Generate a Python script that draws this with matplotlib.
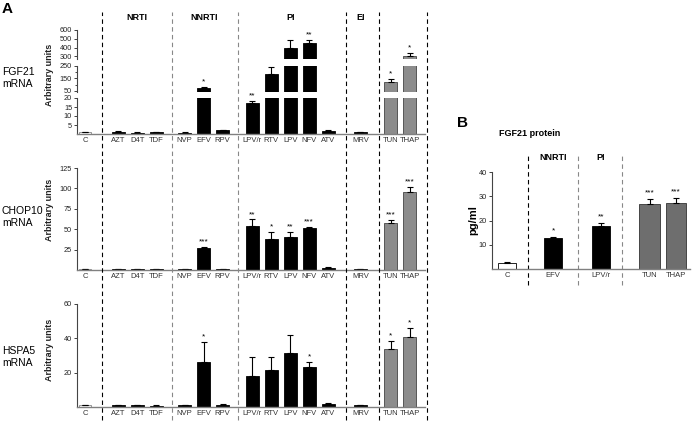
import numpy as np
import matplotlib.pyplot as plt
import matplotlib.transforms as mtransforms

plt.rcParams['font.family'] = ['Liberation Sans', 'DejaVu Sans']

# panel A data
drugs = ['C', 'AZT', 'D4T', 'TDF', 'NVP', 'EFV', 'RPV', 'LPV/r', 'RTV', 'LPV', 'NFV', 'ATV', 'MRV', 'TUN', 'THAP']
groups = ['NRTI', 'NNRTI', 'PI', 'EI']

fgf21 = [1.0, 1.2, 0.8, 1.0, 0.8, 75, 2.0, 17.2, 185, 390, 455, 1.8, 1.0, 122, 305]
fgf21_err = [0.1, 0.2, 0.1, 0.1, 0.1, 7, 0.2, 1.3, 57, 100, 35, 0.2, 0.1, 22, 35]
fgf21_sig = ['', '', '', '', '', '*', '', '**', '', '', '**', '', '', '*', '*']

chop10 = [1, 1, 1, 1, 1, 27, 1.5, 54, 38, 40, 52, 3, 1, 57, 95]
chop10_err = [0.2, 0.2, 0.2, 0.2, 0.2, 1.5, 0.3, 8, 9, 7, 1, 0.5, 0.2, 4, 7]
chop10_sig = ['', '', '', '', '', '***', '', '**', '*', '**', '***', '', '', '***', '***']

hspa5 = [1, 1, 1, 0.8, 1, 26.5, 1, 18, 21.5, 31.5, 23.5, 2, 1, 33.7, 40.7]
hspa5_err = [0.1, 0.1, 0.1, 0.1, 0.1, 11.5, 0.5, 11, 7.5, 10.5, 3, 0.3, 0.1, 4.7, 5.3]
hspa5_sig = ['', '', '', '', '', '*', '', '', '', '', '*', '', '', '*', '*']

# panel B data
b_labels = ['C', 'EFV', 'LPV/r', 'TUN', 'THAP']
b_vals = [2.6, 12.9, 17.7, 26.8, 27.1]
b_err = [0.4, 0.3, 1.2, 2.0, 2.1]
b_sig = ['', '*', '**', '***', '***']

# layout
xpos = np.array([0, 1.75, 2.75, 3.75, 5.25, 6.25, 7.25, 8.8, 9.8, 10.8, 11.8, 12.8, 14.5, 16.1, 17.1])
seps = [0.89, 4.58, 8.05, 13.74, 15.47, 17.99]
sep_cols = ['black', '#888888', '#888888', 'black', 'black', 'black']
group_x = [2.75, 6.25, 10.8, 14.5]
xlim = (-0.42, 17.9)

colors = ['white'] + ['black'] * 12 + ['#8c8c8c'] * 2
edges = ['#888888'] + ['black'] * 12 + ['#444444'] * 2

W, H = 693, 423
fig = plt.figure(figsize=(W / 100, H / 100), dpi=100)


def rect(x0, x1, ytop, ybot):
    return [x0 / W, 1 - ybot / H, (x1 - x0) / W, (ybot - ytop) / H]


def style(ax, bottom=True):
    for s in ['top', 'right']:
        ax.spines[s].set_visible(False)
    ax.spines['left'].set_color('#444444')
    ax.spines['left'].set_linewidth(0.8)
    ax.spines['bottom'].set_color('#808080')
    ax.spines['bottom'].set_linewidth(1.0)
    ax.tick_params(axis='y', direction='out', length=2.5, width=0.6, labelsize=5.3, pad=1, colors='#222222')
    ax.tick_params(axis='x', length=0, labelsize=5.5, pad=2, labelcolor='#333333')
    if not bottom:
        ax.spines['bottom'].set_visible(False)
        ax.set_xticks([])


def bars(ax, vals, errs):
    ax.bar(xpos, vals, width=0.68, color=colors, edgecolor=edges, linewidth=0.6)
    ax.errorbar(xpos, vals, yerr=[np.zeros(len(vals)), errs], fmt='none', ecolor='black',
                elinewidth=0.8, capsize=2.5, capthick=0.8)
    ax.set_xlim(*xlim)


def stars(ax, vals, errs, sig):
    for x, v, e, s in zip(xpos, vals, errs, sig):
        if s:
            ax.annotate(s, (x, v + e), xytext=(0, 1), textcoords='offset points',
                        ha='center', va='bottom', fontsize=6)


# FGF21 broken axis: three segments
segs = [((0, 20), rect(77, 425, 98, 134), [5, 10, 15, 20]),
        ((40, 250), rect(77, 425, 66, 92), [50, 150, 250]),
        ((270, 600), rect(77, 425, 30, 59), [300, 400, 500, 600])]
seg_axes = []
for i, (lim, pos, ticks) in enumerate(segs):
    ax = fig.add_axes(pos)
    bars(ax, fgf21, fgf21_err)
    ax.set_ylim(*lim)
    ax.set_yticks(ticks)
    style(ax, bottom=(i == 0))
    seg_axes.append(ax)
seg_axes[1].set_yticks([100, 200], minor=True)
seg_axes[1].tick_params(axis='y', which='minor', length=1.5, width=0.5)
seg_axes[0].set_xticks(xpos, drugs)
for x, v, e, s in zip(xpos, fgf21, fgf21_err, fgf21_sig):
    if s:
        top = v + e
        for (lim, _, _), ax in zip(segs, seg_axes):
            if lim[0] <= top <= lim[1]:
                ax.annotate(s, (x, top), xytext=(0, 1), textcoords='offset points',
                            ha='center', va='bottom', fontsize=6, annotation_clip=False)

# CHOP10
ax2 = fig.add_axes(rect(77, 425, 168, 270))
bars(ax2, chop10, chop10_err)
ax2.set_ylim(0, 125)
ax2.set_yticks([25, 50, 75, 100, 125])
ax2.set_xticks(xpos, drugs)
style(ax2)
stars(ax2, chop10, chop10_err, chop10_sig)

# HSPA5
ax3 = fig.add_axes(rect(77, 425, 304, 407))
bars(ax3, hspa5, hspa5_err)
ax3.set_ylim(0, 60)
ax3.set_yticks([20, 40, 60])
ax3.set_xticks(xpos, drugs)
style(ax3)
stars(ax3, hspa5, hspa5_err, hspa5_sig)

# dashed separators across panel A
ov = fig.add_axes(rect(77, 425, 12, 420))
ov.set_xlim(*xlim)
ov.set_ylim(0, 1)
ov.axis('off')
ov.patch.set_alpha(0)
for x, c in zip(seps, sep_cols):
    ov.plot([x, x], [0, 1], color=c, lw=0.8, dashes=(4, 3), clip_on=False)
tr = mtransforms.blended_transform_factory(ov.transData, fig.transFigure)
for gx, g in zip(group_x, groups):
    fig.text(gx, 1 - 18 / H, g, transform=tr, ha='center', va='center', fontsize=6.5, fontweight='bold')

# row labels
for name, yc in [('FGF21', 78), ('CHOP10', 217), ('HSPA5', 357)]:
    fig.text(2 / W, 1 - yc / H, name + '\nmRNA', ha='left', va='center', fontsize=7.5, linespacing=1.3)
for yc in [75, 210, 350]:
    fig.text(50 / W, 1 - yc / H, 'Arbitrary units', rotation=90, ha='center', va='center',
             fontsize=6.5, fontweight='bold', color='#222222')

fig.text(2 / W, 1 - 2 / H, 'A', ha='left', va='top', fontsize=11, fontweight='bold')

# panel B
bx = np.array([0, 2.5, 5.1, 7.75, 9.2])
bw = [1.0, 1.0, 1.0, 1.1, 1.1]
bcol = ['white', 'black', 'black', '#6e6e6e', '#6e6e6e']
axb = fig.add_axes(rect(492, 690, 172, 269))
axb.bar(bx, b_vals, width=bw, color=bcol, edgecolor=['black', 'black', 'black', '#333333', '#333333'], linewidth=0.6)
axb.errorbar(bx, b_vals, yerr=[np.zeros(5), b_err], fmt='none', ecolor='black', elinewidth=0.8,
             capsize=2.5, capthick=0.8)
axb.set_xlim(-0.82, 9.95)
axb.set_ylim(0, 40)
axb.set_yticks([10, 20, 30, 40])
axb.set_xticks(bx, b_labels)
style(axb)
for x, v, e, s in zip(bx, b_vals, b_err, b_sig):
    if s:
        axb.annotate(s, (x, v + e), xytext=(0, 2), textcoords='offset points',
                     ha='center', va='bottom', fontsize=6)
b0, b1 = 1 - 269 / H, 1 - 172 / H
ymin = ((1 - 285 / H) - b0) / (b1 - b0)
ymax = ((1 - 153 / H) - b0) / (b1 - b0)
for x, c in zip([1.14, 3.86, 6.25], ['black', '#888888', '#888888']):
    axb.plot([x, x], [ymin * 40, ymax * 40], color=c, lw=0.8, dashes=(4, 3), clip_on=False)
gy = ((1 - 157 / H) - b0) / (b1 - b0)
axb.text(2.5, gy, 'NNRTI', transform=axb.get_xaxis_transform(), ha='center', va='center',
         fontsize=6.5, fontweight='bold')
axb.text(5.1, gy, 'PI', transform=axb.get_xaxis_transform(), ha='center', va='center',
         fontsize=6.5, fontweight='bold')
fig.text(473 / W, 1 - 220 / H, 'pg/ml', rotation=90, ha='center', va='center', fontsize=8, fontweight='bold')
fig.text(463 / W, 1 - 123 / H, 'B', ha='center', va='center', fontsize=11, fontweight='bold')
fig.text(530 / W, 1 - 133 / H, 'FGF21 protein', ha='center', va='center', fontsize=6.5, fontweight='bold')

fig.savefig('out.png', dpi=100)
